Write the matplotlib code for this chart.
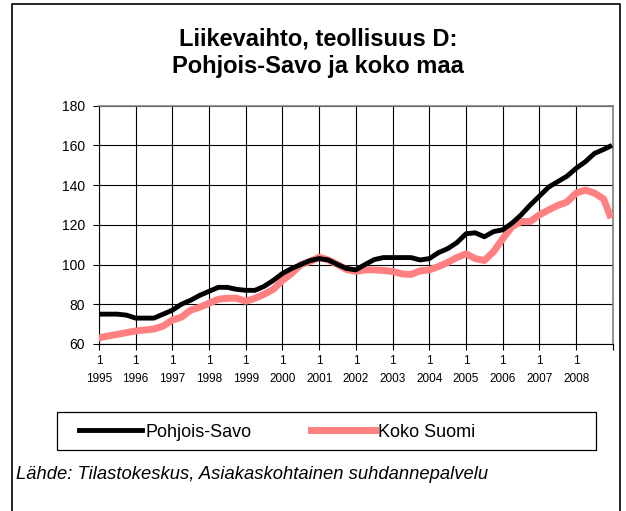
import matplotlib
matplotlib.use("Agg")
import matplotlib.pyplot as plt
from matplotlib.patches import Rectangle

plt.rcParams["font.family"] = ["Liberation Sans", "DejaVu Sans"]

# month index (0 = Jan 1995), sampled quarterly
months = list(range(0, 168, 3)) + [167]
pohjois_savo = [75, 75, 75, 74.5, 73, 73, 73, 75, 77, 80, 82, 84.5,
                86.5, 88.5, 88.5, 87.5, 87, 87, 89, 92, 95.5, 98, 100, 102,
                103, 102.3, 100, 98, 97.3, 100, 102.5, 103.5, 103.5, 103.5, 103.5, 102.3,
                103, 106, 108, 111, 115.5, 116, 114, 116.6, 117.5, 120.8, 125, 130,
                134.5, 139, 141.8, 144.5, 148.5, 151.8, 156, 158, 159.5]
koko_suomi = [63, 64, 64.8, 65.7, 66.5, 67, 67.5, 69, 72, 73.5, 77, 78.5,
              80.5, 82.5, 83, 83, 81.5, 83, 85, 87.5, 92, 95.5, 100, 101.5,
              103.7, 102.3, 100, 97.5, 96.5, 97.3, 97.3, 97, 96.5, 95.3, 95, 96.8,
              97.3, 99, 101, 103.5, 105.4, 103, 102, 106.5, 113, 119, 121.7, 121.7,
              125, 127.5, 129.8, 131.5, 136, 137.5, 136, 133, 125]
years = list(range(1995, 2009))
yticks = [60, 80, 100, 120, 140, 160, 180]

fig = plt.figure(figsize=(6.26, 5.11), dpi=100)
ax = fig.add_axes([0.158, 0.327, 0.821, 0.466])

ax.plot(months, koko_suomi, color="#FF8080", lw=5, zorder=3)
ax.plot(months, pohjois_savo, color="black", lw=3.5, zorder=4)

ax.set_xlim(0, 168)
ax.set_ylim(60, 180)
ax.set_yticks(yticks)
ax.set_yticklabels([str(v) for v in yticks], fontsize=10)
ax.set_xticks([12 * i for i in range(len(years))] + [168])
ax.set_xticklabels([f"1\n{y}" for y in years] + [""], fontsize=8.5, linespacing=1.7)
ax.tick_params(axis="x", length=4, pad=4)
ax.tick_params(axis="y", length=4, pad=6)
ax.grid(True, color="black", lw=0.8)
ax.set_axisbelow(True)
for s in ("top", "right"):
    ax.spines[s].set_color("#808080")
    ax.spines[s].set_linewidth(1.2)

fig.text(0.508, 0.924, "Liikevaihto, teollisuus D:", ha="center", va="center",
         fontsize=17, fontweight="bold")
fig.text(0.508, 0.870, "Pohjois-Savo ja koko maa", ha="center", va="center",
         fontsize=17, fontweight="bold")

# legend: frame drawn separately, entries left-aligned inside it
fig.add_artist(Rectangle((0.091, 0.119), 0.861, 0.074, transform=fig.transFigure,
                         fill=False, edgecolor="black", lw=0.9))
h1, = ax.plot([], [], color="black", lw=3.5, label="Pohjois-Savo")
h2, = ax.plot([], [], color="#FF8080", lw=5, label="Koko Suomi")
fig.legend(handles=[h1, h2], loc="center left", ncol=2, fontsize=13,
           bbox_to_anchor=(0.126, 0.154), frameon=False,
           handlelength=3.5, handletextpad=0.2, columnspacing=3.3,
           borderaxespad=0, borderpad=0)

fig.text(0.026, 0.072, "Lähde: Tilastokeskus, Asiakaskohtainen suhdannepalvelu",
         ha="left", va="center", fontsize=13.2, style="italic")

fig.add_artist(Rectangle((0.019, -0.1), 0.972, 1.092, transform=fig.transFigure,
                         fill=False, edgecolor="black", lw=1.2))

fig.savefig("out.png", dpi=100, facecolor="white")
